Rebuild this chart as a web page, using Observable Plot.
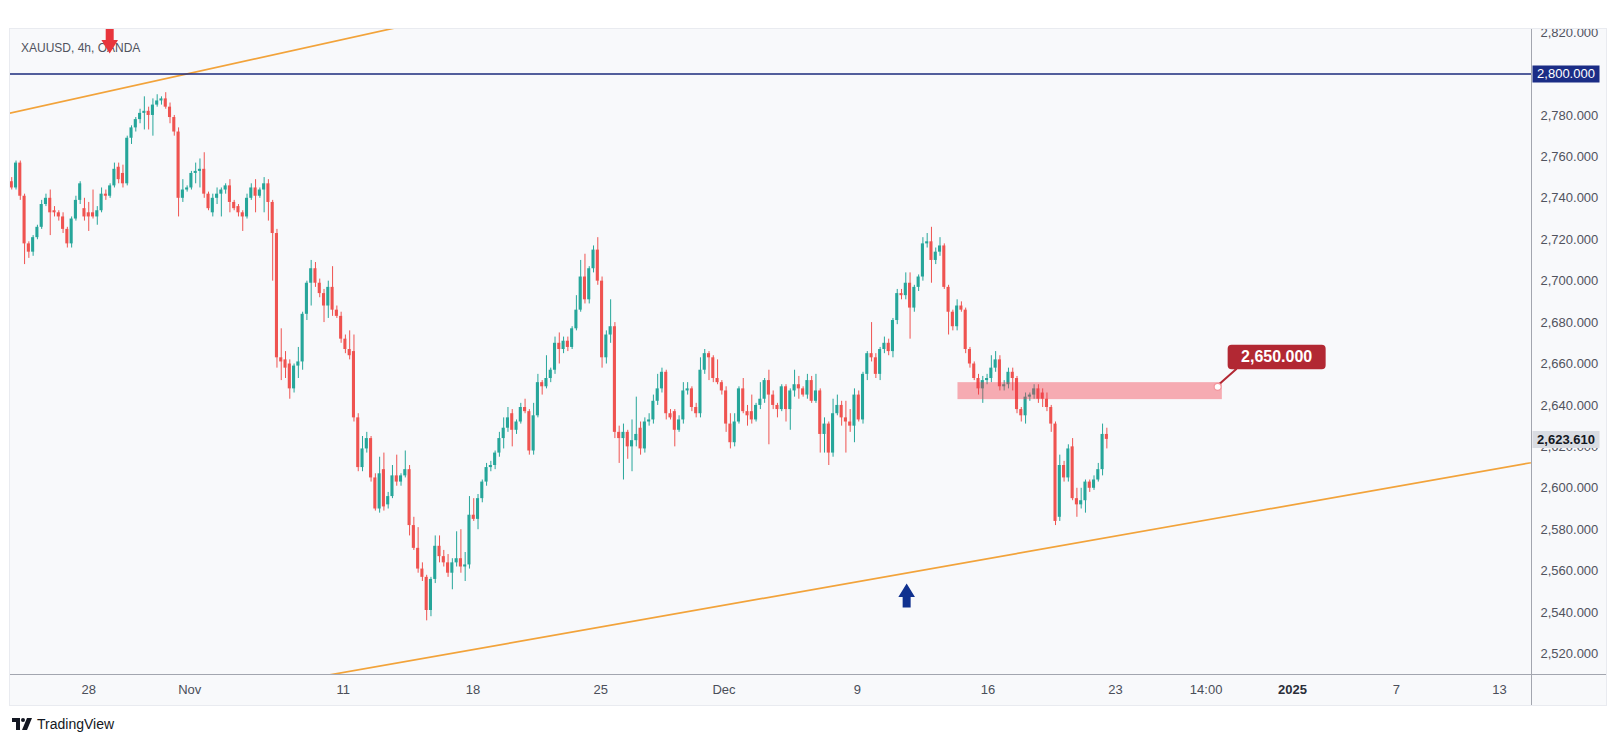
<!DOCTYPE html>
<html>
<head>
<meta charset="utf-8">
<script src="https://cdn.jsdelivr.net/npm/d3@7"></script>
<script src="https://cdn.jsdelivr.net/npm/@observablehq/plot@0.6"></script>
<style>
  html,body{margin:0;padding:0;background:#ffffff;}
  body{width:1614px;height:744px;position:relative;overflow:hidden;font-family:"Liberation Sans",Arial,sans-serif;}
  #panel{position:absolute;left:10px;top:29px;width:1596px;height:676px;background:#f8f9fb;box-shadow:0 0 0 1px #e9ebf0;}
  #chart{position:absolute;left:0;top:0;}
  #vsep{position:absolute;left:1521px;top:0;width:1px;height:676px;background:#a3a6af;}
  #hsep{position:absolute;left:0;top:645px;width:1596px;height:1px;background:#a3a6af;}
  #brand{position:absolute;left:12px;top:715px;height:17px;display:flex;align-items:center;gap:5px;color:#131722;font-size:14px;}
</style>
</head>
<body>
<div id="panel"><div id="chart"></div><div id="vsep"></div><div id="hsep"></div></div>
<div id="brand"><svg width="20" height="12" viewBox="0 0 20 12"><path d="M0 0H8V12H4V4H0Z" fill="#131722"/><circle cx="11" cy="2" r="2" fill="#131722"/><path d="M15 0H20L15 12H10Z" fill="#131722"/></svg><span>TradingView</span></div>
<script>
// ---- data (XAUUSD 4h, OANDA), bar index order ----
const opens = [
2748,2745,2757,2741,2718,2714,2721,2726,2737,2740,
2734,2733,2731,2725,2718,2730,2739,2735,2733,2733,
2731,2734,2742,2741,2746,2755,2752,2747,2769,2774,
2778,2781,2782,2780,2785,2787,2788,2784,2779,2772,
2740,2744,2745,2752,2753,2754,2742,2733,2740,2742,
2744,2746,2738,2736,2733,2731,2740,2745,2741,2744,
2747,2738,2723,2663,2662,2660,2648,2659,2661,2684,
2699,2706,2699,2694,2688,2697,2686,2683,2672,2667,
2666,2634,2610,2619,2624,2605,2590,2609,2592,2596,
2606,2603,2606,2609,2582,2571,2561,2557,2541,2556,
2572,2567,2564,2559,2564,2566,2562,2563,2587,2585,
2595,2603,2610,2611,2617,2624,2629,2636,2628,2632,
2639,2637,2618,2635,2651,2649,2653,2657,2670,2667,
2671,2668,2677,2686,2702,2691,2706,2715,2700,2663,
2674,2678,2627,2624,2627,2620,2623,2629,2619,2632,
2633,2642,2648,2656,2636,2637,2628,2633,2647,2648,
2639,2636,2657,2665,2663,2653,2651,2647,2631,2622,
2632,2648,2637,2637,2633,2640,2643,2652,2645,2640,
2638,2649,2638,2647,2650,2648,2645,2652,2642,2647,
2626,2631,2617,2636,2640,2634,2632,2630,2645,2633,
2655,2665,2663,2655,2667,2670,2666,2681,2694,2693,
2699,2687,2697,2702,2718,2719,2710,2714,2717,2697,
2685,2678,2688,2686,2667,2660,2653,2648,2652,2653,
2658,2662,2649,2650,2656,2653,2638,2635,2644,2645,
2648,2646,2643,2639,2631,2586,2611,2605,2620,2595,
2592,2594,2603,2600,2604,2609,2626];
const highs = [
2750,2758,2758,2742,2719,2722,2727,2739,2742,2744,
2736,2734,2733,2726,2731,2741,2748,2740,2738,2744,
2736,2745,2744,2747,2757,2757,2756,2770,2775,2779,
2783,2789,2784,2788,2790,2789,2791,2786,2780,2774,
2749,2746,2753,2757,2759,2762,2743,2742,2745,2745,
2747,2749,2739,2737,2734,2742,2747,2749,2745,2750,
2749,2739,2725,2677,2666,2662,2660,2668,2685,2700,
2710,2709,2701,2696,2700,2707,2688,2685,2674,2676,
2674,2636,2625,2627,2625,2607,2615,2617,2598,2611,
2616,2607,2618,2611,2586,2581,2564,2558,2557,2577,
2577,2570,2568,2566,2579,2580,2569,2596,2595,2597,
2604,2612,2613,2618,2627,2634,2639,2638,2633,2641,
2643,2638,2641,2655,2652,2664,2658,2673,2675,2673,
2673,2678,2693,2710,2713,2707,2717,2721,2702,2676,
2691,2680,2630,2631,2628,2633,2644,2632,2634,2636,
2645,2655,2658,2657,2638,2638,2635,2651,2651,2649,
2641,2663,2667,2666,2664,2662,2652,2649,2636,2636,
2649,2653,2640,2645,2641,2651,2653,2657,2647,2641,
2650,2650,2648,2657,2654,2649,2655,2654,2655,2648,
2634,2632,2643,2645,2642,2642,2638,2648,2647,2656,
2666,2680,2665,2668,2673,2672,2682,2696,2696,2704,
2704,2698,2703,2721,2723,2726,2716,2721,2718,2698,
2686,2691,2690,2687,2668,2661,2655,2654,2655,2664,
2666,2664,2652,2658,2658,2654,2639,2646,2646,2650,
2650,2648,2646,2640,2632,2616,2613,2621,2624,2600,
2600,2604,2604,2606,2612,2631,2629];
const lows = [
2744,2744,2739,2708,2711,2712,2720,2725,2736,2722,
2731,2729,2723,2716,2716,2729,2737,2729,2724,2730,
2727,2733,2739,2740,2745,2747,2745,2746,2766,2772,
2776,2773,2773,2770,2784,2785,2783,2776,2770,2731,
2738,2743,2744,2747,2745,2740,2734,2731,2737,2731,
2742,2733,2734,2731,2724,2730,2739,2733,2740,2733,
2729,2700,2658,2652,2653,2643,2646,2653,2657,2681,
2688,2697,2692,2680,2682,2683,2682,2670,2665,2662,
2632,2608,2608,2617,2603,2589,2588,2589,2590,2595,
2601,2601,2605,2577,2570,2559,2555,2536,2538,2554,
2564,2562,2557,2551,2562,2559,2555,2561,2584,2580,
2593,2601,2608,2609,2615,2619,2627,2620,2626,2631,
2636,2616,2616,2634,2645,2648,2651,2655,2660,2665,
2666,2667,2676,2685,2689,2689,2704,2698,2658,2660,
2670,2624,2612,2604,2614,2608,2620,2616,2617,2630,
2631,2640,2646,2633,2633,2620,2627,2631,2645,2637,
2634,2634,2655,2652,2651,2650,2645,2627,2619,2620,
2631,2636,2630,2631,2632,2638,2641,2621,2638,2634,
2637,2632,2628,2644,2643,2644,2643,2641,2641,2617,
2617,2611,2615,2635,2630,2617,2627,2622,2632,2631,
2652,2661,2653,2652,2665,2664,2663,2679,2691,2691,
2672,2685,2695,2700,2716,2699,2708,2712,2696,2674,
2676,2676,2685,2665,2658,2652,2645,2641,2650,2651,
2656,2647,2647,2648,2647,2636,2632,2631,2642,2643,
2641,2639,2637,2627,2582,2584,2603,2603,2594,2586,
2590,2588,2598,2599,2603,2606,2619];
const closes = [
2745,2757,2741,2718,2714,2721,2726,2737,2740,2733,
2733,2731,2725,2718,2730,2739,2747,2731,2731,2731,
2734,2742,2741,2746,2754,2749,2747,2769,2774,2778,
2781,2782,2780,2785,2787,2788,2784,2779,2772,2740,
2744,2745,2752,2753,2754,2742,2735,2740,2742,2744,
2746,2738,2735,2733,2731,2740,2745,2741,2744,2747,
2738,2723,2663,2661,2658,2648,2659,2661,2684,2699,
2706,2699,2694,2688,2697,2686,2683,2672,2667,2664,
2634,2610,2619,2624,2605,2590,2607,2591,2596,2606,
2603,2606,2609,2582,2571,2561,2557,2541,2556,2572,
2567,2564,2559,2564,2566,2562,2563,2587,2585,2595,
2603,2610,2611,2617,2624,2629,2634,2628,2632,2639,
2637,2618,2635,2651,2649,2653,2657,2670,2667,2671,
2668,2677,2686,2702,2691,2706,2715,2700,2663,2674,
2678,2627,2624,2627,2620,2623,2626,2619,2632,2633,
2642,2648,2656,2636,2634,2628,2633,2647,2648,2639,
2636,2657,2665,2663,2653,2651,2647,2631,2622,2632,
2648,2637,2635,2633,2640,2643,2652,2645,2640,2638,
2649,2638,2647,2650,2648,2645,2652,2642,2647,2626,
2631,2617,2636,2640,2634,2632,2630,2645,2633,2655,
2665,2663,2655,2667,2670,2666,2681,2694,2693,2699,
2687,2697,2702,2718,2719,2710,2714,2717,2697,2685,
2678,2688,2686,2667,2660,2653,2648,2652,2653,2658,
2662,2649,2650,2656,2653,2638,2635,2644,2645,2648,
2643,2643,2639,2631,2584,2611,2605,2619,2595,2592,
2594,2603,2600,2604,2609,2626,2623.61];

const yTicks = [2520,2540,2560,2580,2600,2620,2640,2660,2680,2700,2720,2740,2760,2780,2800,2820];
const timeTickIdx = [18.0,41.6,77.5,107.8,137.7,166.5,197.7,228.2,258.0,279.2,299.4,323.7,347.8];
const timeTickLabels = ["28","Nov","11","18","25","Dec","9","16","23","14:00","2025","7","13"];
const symbolLabel = "XAUUSD, 4h, OANDA";
const levels = [2800];
const lastPrice = 2623.61;
const upperTrend = [{i:-2, p:2780.4},{i:100, p:2827.0}];
const lowerTrend = [{i:60, p:2504.7},{i:360, p:2614.1}];
const zones = [{start:221.2, end:283.0, low:2642.8, high:2651.0}];
const callouts = [{i:281.9, p:2649.0, value:2650}];
const downArrows = [{i:22.9, p:2815.9}];
const upArrows = [{i:209.2, p:2547.8}];

// ---- rendering ----
const fmt = d3.format(",.3f");
const bars = opens.map((o, i) => ({i, o, h: highs[i], l: lows[i], c: closes[i]}));
const up = "#26a69a", down = "#ef5350";
const col = d => d.c >= d.o ? up : down;
const bodyLo = d => Math.abs(d.c - d.o) < 0.5 ? (d.o + d.c) / 2 - 0.3 : Math.min(d.o, d.c);
const bodyHi = d => Math.abs(d.c - d.o) < 0.5 ? (d.o + d.c) / 2 + 0.3 : Math.max(d.o, d.c);
const timeTicks = timeTickIdx.map((idx, k) => ({idx, label: timeTickLabels[k]}));
const isYear = t => /^\d{4}$/.test(t.label);
// tick labels that are not replaced by a highlighted level box
const axisTicks = yTicks.filter(t => !levels.includes(t));

function roundRect(ctx, x0, y0, x1, y1, r) {
  ctx.moveTo(x0 + r, y0); ctx.lineTo(x1 - r, y0); ctx.quadraticCurveTo(x1, y0, x1, y0 + r);
  ctx.lineTo(x1, y1 - r); ctx.quadraticCurveTo(x1, y1, x1 - r, y1);
  ctx.lineTo(x0 + r, y1); ctx.quadraticCurveTo(x0, y1, x0, y1 - r);
  ctx.lineTo(x0, y0 + r); ctx.quadraticCurveTo(x0, y0, x0 + r, y0); ctx.closePath();
}
const arrowDown = {draw(ctx) {
  ctx.moveTo(-4, -14); ctx.lineTo(4, -14); ctx.lineTo(4, -1); ctx.lineTo(8.3, -1);
  ctx.lineTo(0, 12.5); ctx.lineTo(-8.3, -1); ctx.lineTo(-4, -1); ctx.closePath();
}};
const arrowUp = {draw(ctx) {
  ctx.moveTo(0, -13); ctx.lineTo(8.3, 0.5); ctx.lineTo(4, 0.5); ctx.lineTo(4, 11);
  ctx.lineTo(-4, 11); ctx.lineTo(-4, 0.5); ctx.lineTo(-8.3, 0.5); ctx.closePath();
}};
const calloutSym = {draw(ctx) {
  ctx.moveTo(2, -3); ctx.lineTo(19, -18);
  roundRect(ctx, 11, -41, 107, -18.5, 3);
}};
const priceBox = {draw(ctx) { ctx.rect(1, -8.5, 67, 17); }};

const chart = Plot.plot({
  width: 1596, height: 676,
  marginLeft: 0, marginRight: 75, marginTop: 0, marginBottom: 31,
  x: {type: "linear", domain: [-0.29, 355.27], axis: null},
  y: {type: "linear", domain: [2510.1, 2821.5], axis: null},
  style: {background: "transparent", overflow: "hidden", fontFamily: '"Liberation Sans", Arial, sans-serif'},
  marks: [
    Plot.line(upperTrend, {x: "i", y: "p", stroke: "#f2a33a", strokeWidth: 1.7, clip: true}),
    Plot.line(lowerTrend, {x: "i", y: "p", stroke: "#f2a33a", strokeWidth: 1.7, clip: true}),
    Plot.ruleY(levels, {y: d => d, stroke: "#1b2a7d", strokeWidth: 1.4}),
    Plot.ruleX(bars, {x: "i", y1: "l", y2: "h", stroke: col, strokeWidth: 1}),
    Plot.rect(bars, {x1: d => d.i - 0.36, x2: d => d.i + 0.36, y1: bodyLo, y2: bodyHi, fill: col}),
    Plot.rect(zones, {x1: "start", x2: "end", y1: "low", y2: "high", fill: "#f23645", fillOpacity: 0.4}),
    Plot.text([symbolLabel], {frameAnchor: "top-left", dx: 10.5, dy: 19, textAnchor: "start", lineAnchor: "middle", fill: "#50535e", fontSize: 12}),
    Plot.dot(downArrows, {x: "i", y: "p", symbol: arrowDown, fill: "#e8353c", stroke: "none"}),
    Plot.dot(upArrows, {x: "i", y: "p", symbol: arrowUp, fill: "#10318f", stroke: "none"}),
    Plot.dot(callouts, {x: "i", y: "p", symbol: calloutSym, fill: "#b22833", stroke: "#b22833", strokeWidth: 2}),
    Plot.dot(callouts, {x: "i", y: "p", r: 3.5, fill: "white", stroke: "#f3969d", strokeWidth: 1.2}),
    Plot.text(callouts, {x: "i", y: "p", text: d => fmt(d.value), dx: 59, dy: -30, fill: "white", fontWeight: "bold", fontSize: 16}),
    Plot.text(axisTicks, {y: d => d, frameAnchor: "right", textAnchor: "start", lineAnchor: "middle", dx: 9, text: d => fmt(d), fill: "#50535e", fontSize: 13}),
    Plot.dot(levels, {y: d => d, frameAnchor: "right", symbol: priceBox, fill: "#1b2d86", stroke: "none"}),
    Plot.text(levels, {y: d => d, frameAnchor: "right", textAnchor: "middle", lineAnchor: "middle", dx: 34.5, text: d => fmt(d), fill: "white", fontSize: 13}),
    Plot.dot([lastPrice], {y: d => d, frameAnchor: "right", symbol: priceBox, fill: "#d9dce2", stroke: "none"}),
    Plot.text([lastPrice], {y: d => d, frameAnchor: "right", textAnchor: "middle", lineAnchor: "middle", dx: 34.5, text: d => fmt(d), fill: "#131722", fontWeight: "bold", fontSize: 13}),
    Plot.text(timeTicks.filter(t => !isYear(t)), {x: "idx", text: "label", frameAnchor: "bottom", lineAnchor: "middle", dy: 15.5, fill: "#4a4e59", fontSize: 13}),
    Plot.text(timeTicks.filter(isYear), {x: "idx", text: "label", frameAnchor: "bottom", lineAnchor: "middle", dy: 15.5, fill: "#2a2e39", fontWeight: "bold", fontSize: 13})
  ]
});
document.getElementById("chart").appendChild(chart);
</script>
</body>
</html>
